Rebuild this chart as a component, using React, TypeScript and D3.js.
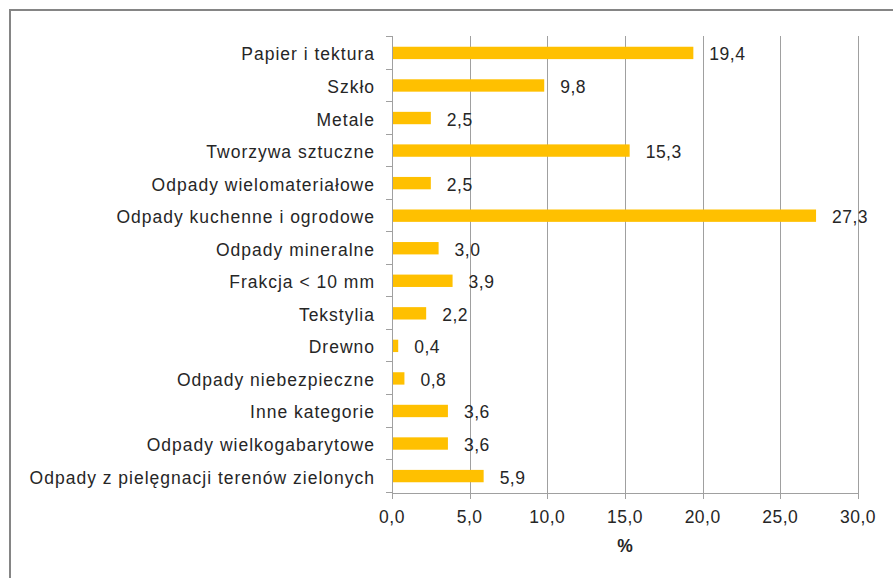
import React, { useEffect, useRef } from "react";
import * as d3 from "d3";

const categories = [
  "Papier i tektura",
  "Szkło",
  "Metale",
  "Tworzywa sztuczne",
  "Odpady wielomateriałowe",
  "Odpady kuchenne i ogrodowe",
  "Odpady mineralne",
  "Frakcja < 10 mm",
  "Tekstylia",
  "Drewno",
  "Odpady niebezpieczne",
  "Inne kategorie",
  "Odpady wielkogabarytowe",
  "Odpady z pielęgnacji terenów zielonych",
];

const values = [19.4, 9.8, 2.5, 15.3, 2.5, 27.3, 3.0, 3.9, 2.2, 0.4, 0.8, 3.6, 3.6, 5.9];

const xTicks = [0, 5, 10, 15, 20, 25, 30];

const fmt = (v: number) => v.toFixed(1).replace(".", ",");

export default function App() {
  const ref = useRef<SVGSVGElement>(null);

  useEffect(() => {
    if (!ref.current) return;
    const svg = d3.select(ref.current);
    svg.selectAll("*").remove();

    const font = "'Liberation Sans', Arial, sans-serif";
    const textColor = "#262626";
    const gridColor = "#a0a0a0";
    const fontSize = 17.5;

    const left = 392;
    const right = 858;
    const top = 36;
    const bottom = 493;

    const x = d3.scaleLinear().domain([0, 30]).range([left, right]);
    const y = d3
      .scaleBand<string>()
      .domain(categories)
      .range([top, bottom])
      .paddingInner(0.62)
      .paddingOuter(0.33);
    const step = y.step();

    // outer frame
    svg
      .append("path")
      .attr("d", `M10,578 L10,10 L893,10`)
      .attr("fill", "none")
      .attr("stroke", "#858585")
      .attr("stroke-width", 2);

    // vertical gridlines
    svg
      .selectAll(".grid")
      .data(xTicks.filter((t) => t > 0))
      .enter()
      .append("line")
      .attr("x1", (d) => Math.round(x(d)) + 0.5)
      .attr("x2", (d) => Math.round(x(d)) + 0.5)
      .attr("y1", top)
      .attr("y2", bottom)
      .attr("stroke", gridColor)
      .attr("stroke-width", 1);

    // bars
    svg
      .selectAll(".bar")
      .data(values)
      .enter()
      .append("rect")
      .attr("x", x(0))
      .attr("y", (d, i) => y(categories[i])!)
      .attr("width", (d) => x(d) - x(0))
      .attr("height", y.bandwidth())
      .attr("fill", "#ffc000");

    // axes
    svg
      .append("line")
      .attr("x1", Math.round(x(0)) + 0.5)
      .attr("x2", Math.round(x(0)) + 0.5)
      .attr("y1", top)
      .attr("y2", bottom)
      .attr("stroke", gridColor);
    svg
      .append("line")
      .attr("x1", x(0))
      .attr("x2", x(30))
      .attr("y1", Math.round(bottom) + 0.5)
      .attr("y2", Math.round(bottom) + 0.5)
      .attr("stroke", gridColor);

    // y ticks at band boundaries
    const boundaries = d3.range(categories.length + 1).map((i) => top + i * step);
    svg
      .selectAll(".ytick")
      .data(boundaries)
      .enter()
      .append("line")
      .attr("x1", x(0) - 6)
      .attr("x2", x(0))
      .attr("y1", (d) => Math.round(d) + 0.5)
      .attr("y2", (d) => Math.round(d) + 0.5)
      .attr("stroke", gridColor);

    // x ticks
    svg
      .selectAll(".xtick")
      .data(xTicks)
      .enter()
      .append("line")
      .attr("x1", (d) => Math.round(x(d)) + 0.5)
      .attr("x2", (d) => Math.round(x(d)) + 0.5)
      .attr("y1", bottom)
      .attr("y2", bottom + 6)
      .attr("stroke", gridColor);

    svg
      .selectAll(".xlabel")
      .data(xTicks)
      .enter()
      .append("text")
      .attr("x", (d) => x(d))
      .attr("y", 523)
      .attr("text-anchor", "middle")
      .attr("font-family", font)
      .attr("font-size", fontSize)
      .attr("letter-spacing", 0.5)
      .attr("fill", textColor)
      .text((d) => fmt(d));

    svg
      .append("text")
      .attr("x", (left + right) / 2)
      .attr("y", 552)
      .attr("text-anchor", "middle")
      .attr("font-family", font)
      .attr("font-size", fontSize)
      .attr("font-weight", "bold")
      .attr("fill", textColor)
      .text("%");

    // category labels
    svg
      .selectAll(".cat")
      .data(categories)
      .enter()
      .append("text")
      .attr("x", 375)
      .attr("y", (d) => y(d)! + y.bandwidth() / 2 + 7.5)
      .attr("text-anchor", "end")
      .attr("font-family", font)
      .attr("font-size", fontSize)
      .attr("letter-spacing", 1.0)
      .attr("fill", textColor)
      .text((d) => d);

    // value labels
    svg
      .selectAll(".val")
      .data(values)
      .enter()
      .append("text")
      .attr("x", (d) => x(d) + 16)
      .attr("y", (d, i) => y(categories[i])! + y.bandwidth() / 2 + 7.5)
      .attr("font-family", font)
      .attr("font-size", fontSize)
      .attr("letter-spacing", 0.5)
      .attr("fill", textColor)
      .text((d) => fmt(d));
  }, []);

  return (
    <svg
      ref={ref}
      width={893}
      height={578}
      style={{ position: "absolute", left: 0, top: 0, background: "#fff" }}
    />
  );
}
